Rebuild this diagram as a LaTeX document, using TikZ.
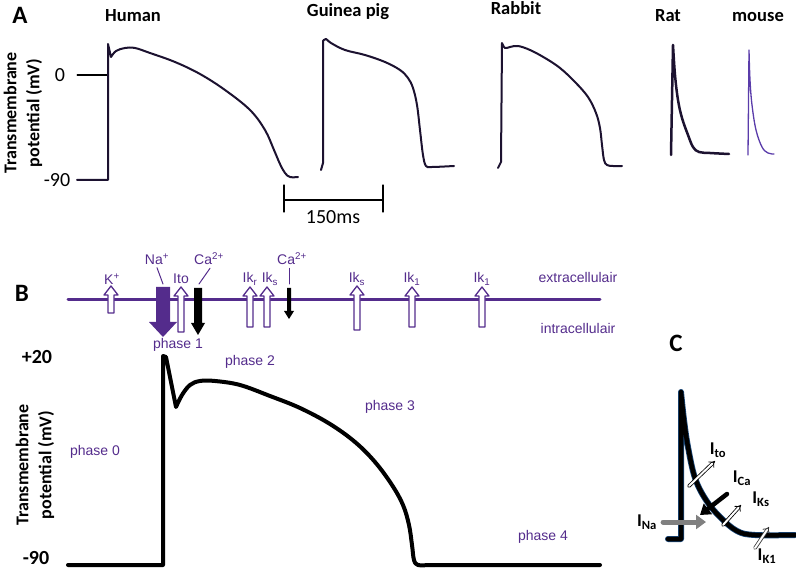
\documentclass[tikz,border=0pt]{standalone}
\usepackage{fontspec}
\setmainfont{Carlito}
\newfontfamily\helv{Liberation Sans}
\usetikzlibrary{arrows.meta}

\definecolor{purp}{RGB}{84,44,140}
\definecolor{trace}{RGB}{28,18,48}
\definecolor{mousec}{RGB}{90,60,170}
\definecolor{halo}{RGB}{25,70,120}

% open channel arrow pointing up: x, tip y, bottom y
\newcommand{\openchan}[3]{%
  \draw[purp, line width=1.3pt, fill=white]
    (#1-3,#3) -- (#1-3,#2+9) -- (#1-7,#2+9) -- (#1,#2) -- (#1+7,#2+9)
    -- (#1+3,#2+9) -- (#1+3,#3) -- cycle;}
% filled channel arrow pointing down: [colour] x, top y, head y, tip y, half shaft, half head
\newcommand{\fillchan}[7][black]{%
  \fill[#1]
    (#2-#6,#3) -- (#2-#6,#4) -- (#2-#7,#4) -- (#2,#5) -- (#2+#7,#4)
    -- (#2+#6,#4) -- (#2+#6,#3) -- cycle;}

\begin{document}
\begin{tikzpicture}[x=1pt, y=-1pt, line cap=round, line join=round,
  every node/.style={inner sep=0pt},
  panel/.style={font=\fontsize{25}{28}\selectfont\bfseries},
  species/.style={font=\fontsize{18.5}{20}\selectfont\bfseries, anchor=base},
  axislab/.style={font=\fontsize{18}{23}\selectfont\bfseries, align=center, rotate=90},
  val/.style={font=\fontsize{20}{22}\selectfont},
  bval/.style={font=\fontsize{20}{22}\selectfont\bfseries},
  phase/.style={font=\helv\fontsize{14}{16}\selectfont, text=purp},
  ion/.style={font=\helv\fontsize{14}{16}\selectfont, text=purp},
  cur/.style={font=\fontsize{18}{20}\selectfont\bfseries},
  ap/.style={trace, line width=2pt},
  hollow/.style={double, double distance=2pt, line width=0.8pt, -{Implies[scale=1.3]}}]

\useasboundingbox (0,0) rectangle (796,572);

% Panel A
\node[panel] (pA) at (20,15) {A};
\node[species] (human) at (133,22) {Human};
\node[species] (guinea) at (348,17) {Guinea pig};
\node[species] (rabbit) at (516,15) {Rabbit};
\node[species] (rat) at (668,22) {Rat};
\node[species] (mouse) at (758,22) {mouse};
\node[axislab] (ylabA) at (23,113) {Transmembrane\\potential (mV)};
\node[val] (zero) at (60,75) {0};
\node[val] (minA) at (57,180) {-90};

\draw[line width=1.5pt] (zero.east) ++(12,0) coordinate (z0) -- (108,75);

% action potentials
\draw[ap] (77,180) -- (108,180) -- (108,44) -- (111,57) -- plot[smooth, tension=0.6] coordinates {(111,57) (116,51) (125,48) (135,48) (150,53) (175,62) (200,74) (225,90) (250,110) (265,130) (274,150) (280,164) (285,173) (290,177) (298,177)};
\draw[ap] (321,170) -- (323,163) -- (323,41) -- plot[smooth, tension=0.6] coordinates {(323,41) (326,39) (331,43) (345,50) (365,55) (385,62) (400,70) (408,78) (413,88) (417,105) (420,130) (423,155) (426,166) (432,167) (454,166)};
\draw[ap] (498,168) -- (501,162) -- (502,43) -- plot[smooth, tension=0.6] coordinates {(502,43) (505,48) (510,47) (518,46) (530,50) (545,58) (560,68) (575,82) (588,97) (596,113) (600,128) (602,145) (604,160) (607,165) (613,166) (622,166)};
\draw[ap, line width=2.5pt] (671,155) -- (673,45) -- plot[smooth, tension=0.6] coordinates {(673,45) (675,75) (678,100) (682,118) (688,135) (693,147) (699,152) (710,153) (729,154)};
\draw[mousec, line width=1.3pt] (748,155) -- (749,50) -- plot[smooth, tension=0.6] coordinates {(749,50) (750,80) (752,105) (756,130) (762,147) (768,153) (774,154)};

% scale bar
\node[val] (scale) at (333,217) {150ms};
\draw[line width=1.3pt] (284,185) -- (284,212);
\draw[line width=1.3pt] (383,185) -- (383,212);
\draw[line width=1.3pt] (284,200) -- (383,200);

% Panel B
\node[panel] (pB) at (22,293) {B};
\node[phase] (extra) at (578,277) {extracellulair};
\node[phase] (intra) at (578,328) {intracellulair};
\draw[purp, line width=3pt] (68,300) -- (600,300);

% ion channels
\openchan{111}{286}{313}
\fillchan[purp]{163}{287}{322}{337}{7}{14}
\openchan{181}{287}{332}
\fillchan{198}{288}{323}{335}{4}{7}
\openchan{250}{287}{327}
\openchan{267}{287}{327}
\fillchan{289}{288}{311}{319}{2}{5}
\openchan{357}{286}{330}
\openchan{412}{287}{327}
\openchan{482}{287}{327}

\node[ion] (kplus) at (112,279) {K\textsuperscript{+}};
\node[ion] (naplus) at (157,259) {Na\textsuperscript{+}};
\node[ion] (ito) at (181,279) {Ito};
\node[ion] (caone) at (209,259) {Ca\textsuperscript{2+}};
\node[ion] (ikr) at (250,279) {Ik\textsubscript{r}};
\node[ion] (iks) at (270,279) {Ik\textsubscript{s}};
\node[ion] (catwo) at (292,259) {Ca\textsuperscript{2+}};
\node[ion] (iksb) at (357,279) {Ik\textsubscript{s}};
\node[ion] (ikone) at (412,279) {Ik\textsubscript{1}};
\node[ion] (iktwo) at (482,279) {Ik\textsubscript{1}};

\draw[purp, line width=1pt] (naplus.south) ++(0,3) -- (163,284);
\draw[purp, line width=1pt] (caone.south) ++(1,3) -- (199,284);
\draw[purp, line width=1pt] (catwo.south) ++(-3,3) -- (289,284);

% phases
\node[phase] (ph1) at (178,345) {phase 1};
\node[phase] (ph2) at (250,362) {phase 2};
\node[phase] (ph3) at (390,407) {phase 3};
\node[phase] (ph0) at (95,452) {phase 0};
\node[phase] (ph4) at (543,537) {phase 4};

\node[bval] (plusB) at (37,357) {+20};
\node[bval] (minB) at (36,558) {-90};
\node[axislab] (ylabB) at (35,465) {Transmembrane\\potential (mV)};

\draw[line width=4pt] (68,565) -- (163,565) -- (163,356) -- (166,357) -- (176,407) -- plot[smooth, tension=0.6] coordinates {(176,407) (182,395) (190,385) (200,381) (215,381) (240,385) (270,396) (300,408) (330,424) (355,442) (375,462) (392,485) (403,505) (409,525) (412,545) (414,560) (418,565) (428,565)} -- (600,565);

% Panel C
\node[panel] (pC) at (676,343) {C};
\draw[halo, line width=6pt] (668,539) -- (681,539) -- (681,392) -- plot[smooth, tension=0.6] coordinates {(681,392) (684,420) (688,447) (695,478) (706,500) (720,517) (737,531) (755,535) (795,535)};
\draw[black, line width=4.5pt] (668,539) -- (681,539) -- (681,392) -- plot[smooth, tension=0.6] coordinates {(681,392) (684,420) (688,447) (695,478) (706,500) (720,517) (737,531) (755,535) (795,535)};

\node[cur] (ito_c) at (718,450) {I\textsubscript{to}};
\node[cur] (ica_c) at (742,478) {I\textsubscript{Ca}};
\node[cur] (iks_c) at (761,499) {I\textsubscript{Ks}};
\node[cur] (ik1_c) at (767,556) {I\textsubscript{K1}};
\node[cur] (ina_c) at (647,522) {I\textsubscript{Na}};

\draw[hollow] (689,486) -- (715,461);
\draw[line width=4.5pt, -{Triangle[length=10pt, width=13pt]}] (727,494) -- (700,515);
\draw[hollow] (723,525) -- (741,505);
\draw[hollow, gray!40!black] (755,548) -- (769,527);
\draw[gray, line width=5pt, -{Triangle[length=10pt, width=14pt]}] (ina_c.east) ++(6,0) -- (706,522);

\end{tikzpicture}
\end{document}
